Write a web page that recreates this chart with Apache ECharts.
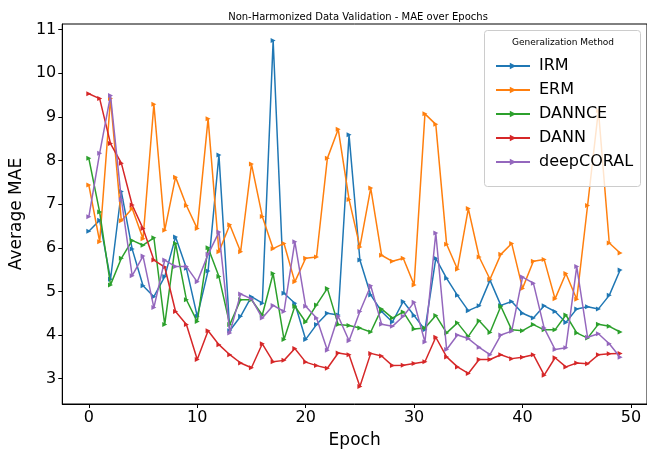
<!DOCTYPE html>
<html>
<head>
<meta charset="utf-8">
<script src="https://cdn.jsdelivr.net/npm/echarts@6/dist/echarts.min.js"></script>
<style>html,body{margin:0;padding:0;background:#fff}#c{width:647px;height:454px}</style>
</head>
<body>
<div id="c"></div>
<script>
const epochs = Array.from({length: 50}, (_, i) => i);
const xTicks = [0, 10, 20, 30, 40, 50];
const yTicks = [3, 4, 5, 6, 7, 8, 9, 10, 11];
const seriesNames = ['IRM', 'ERM', 'DANNCE', 'DANN', 'deepCORAL'];
const IRM = [6.38,6.63,5.28,7.29,5.97,5.13,4.88,5.34,6.25,5.53,4.43,5.47,8.13,4.10,4.43,4.88,4.73,10.75,4.96,4.73,3.90,4.24,4.50,4.46,8.59,5.72,4.92,4.54,4.30,4.77,4.45,4.12,5.76,5.30,4.91,4.56,4.67,5.26,4.68,4.77,4.50,4.39,4.67,4.54,4.29,4.60,4.65,4.60,4.91,5.49];
const ERM = [7.44,6.14,9.42,6.62,6.90,6.21,9.29,6.40,7.62,6.97,6.44,8.96,5.91,6.53,5.91,7.92,6.72,5.98,6.10,5.22,5.76,5.79,8.05,8.72,7.11,6.02,7.37,5.83,5.69,5.76,5.15,9.07,8.83,6.08,5.51,6.90,5.79,5.28,5.85,6.10,5.07,5.69,5.73,4.83,5.41,4.82,6.97,9.15,6.11,5.88];
const DANNCE = [8.05,6.82,5.15,5.76,6.17,6.06,6.23,4.24,6.10,4.81,4.31,6.00,5.34,4.24,4.81,4.81,4.46,5.41,3.90,4.66,4.30,4.69,5.07,4.24,4.22,4.16,4.07,4.60,4.39,4.53,4.14,4.16,4.45,4.05,4.28,3.97,4.33,4.06,4.66,4.12,4.10,4.24,4.12,4.12,4.46,4.05,3.93,4.25,4.20,4.07];
const DANN = [9.53,9.42,8.39,7.94,6.98,6.44,5.72,5.56,4.54,4.24,3.44,4.10,3.78,3.55,3.36,3.25,3.80,3.39,3.42,3.69,3.38,3.30,3.24,3.59,3.55,2.82,3.58,3.52,3.30,3.31,3.35,3.39,3.95,3.50,3.27,3.12,3.44,3.44,3.55,3.46,3.49,3.55,3.08,3.48,3.27,3.36,3.34,3.55,3.57,3.58];
const deepCORAL = [6.71,8.17,9.49,7.11,5.36,5.81,4.63,5.72,5.57,5.57,5.22,5.85,6.36,4.05,4.94,4.83,4.39,4.68,4.54,6.14,4.66,4.39,3.65,4.43,3.87,4.54,5.13,4.25,4.20,4.43,4.75,3.84,6.34,3.67,4.00,3.92,3.72,3.55,4.00,4.09,5.33,5.19,4.16,3.67,3.71,5.57,3.95,4.03,3.80,3.49];
const colors = ['#1f77b4', '#ff7f0e', '#2ca02c', '#d62728', '#9467bd'];

const dataSets = [IRM, ERM, DANNCE, DANN, deepCORAL];
const font = 'DejaVu Sans';

const chart = echarts.init(document.getElementById('c'), null, {renderer: 'canvas'});
chart.setOption({
  animation: false,
  backgroundColor: '#fff',
  color: colors,
  title: {
    text: 'Non-Harmonized Data Validation - MAE over Epochs',
    left: 353, top: 7, textAlign: 'center',
    textStyle: {fontFamily: font, fontSize: 10, fontWeight: 'normal', color: '#000'}
  },
  grid: {left: 57, top: 24, width: 591, height: 382, show: true, borderColor: '#000', borderWidth: 1, backgroundColor: 'transparent'},
  xAxis: {
    type: 'value', min: -2.45, max: 51.48,
    name: 'Epoch', nameLocation: 'middle', nameGap: 28,
    nameTextStyle: {fontFamily: font, fontSize: 17, color: '#000'},
    axisLine: {show: true, onZero: false, lineStyle: {color: '#000', width: 1}},
    axisTick: {show: true, length: 4, customValues: xTicks, lineStyle: {color: '#000'}},
    axisLabel: {customValues: xTicks, fontFamily: font, fontSize: 16, color: '#000', margin: 6},
    splitLine: {show: false}
  },
  yAxis: {
    type: 'value', min: 2.42, max: 11.13,
    name: 'Average MAE', nameLocation: 'middle', nameGap: 34, nameRotate: 90,
    nameTextStyle: {fontFamily: font, fontSize: 17, color: '#000'},
    axisLine: {show: true, onZero: false, lineStyle: {color: '#000', width: 1}},
    axisTick: {show: true, length: 4, customValues: yTicks, lineStyle: {color: '#000'}},
    axisLabel: {customValues: yTicks, fontFamily: font, fontSize: 16, color: '#000', margin: 6},
    splitLine: {show: false}
  },
  legend: {
    orient: 'vertical', left: 490, top: 53, itemGap: 8, z: 60,
    itemWidth: 34, itemHeight: 8,
    textStyle: {fontFamily: font, fontSize: 16, color: '#000', padding: [0, 0, 0, 4]},
    data: seriesNames
  },
  graphic: [
    {type: 'rect', left: 484, top: 30, z: 50, shape: {width: 156, height: 156, r: 3}, style: {fill: 'rgba(255,255,255,0.8)', stroke: '#cccccc', lineWidth: 1}},
    {type: 'text', left: 512, top: 38, z: 51, style: {text: 'Generalization Method', font: '9px "DejaVu Sans"', fill: '#000'}}
  ],
  series: seriesNames.map((n, i) => ({
    name: n, type: 'line',
    data: epochs.map((e, j) => [e, dataSets[i][j]]),
    symbol: 'triangle', symbolSize: 5, symbolRotate: -90, showSymbol: true,
    lineStyle: {width: 1.5, color: colors[i]},
    itemStyle: {color: colors[i]},
    z: 2 + i
  }))
});
</script>
</body>
</html>
